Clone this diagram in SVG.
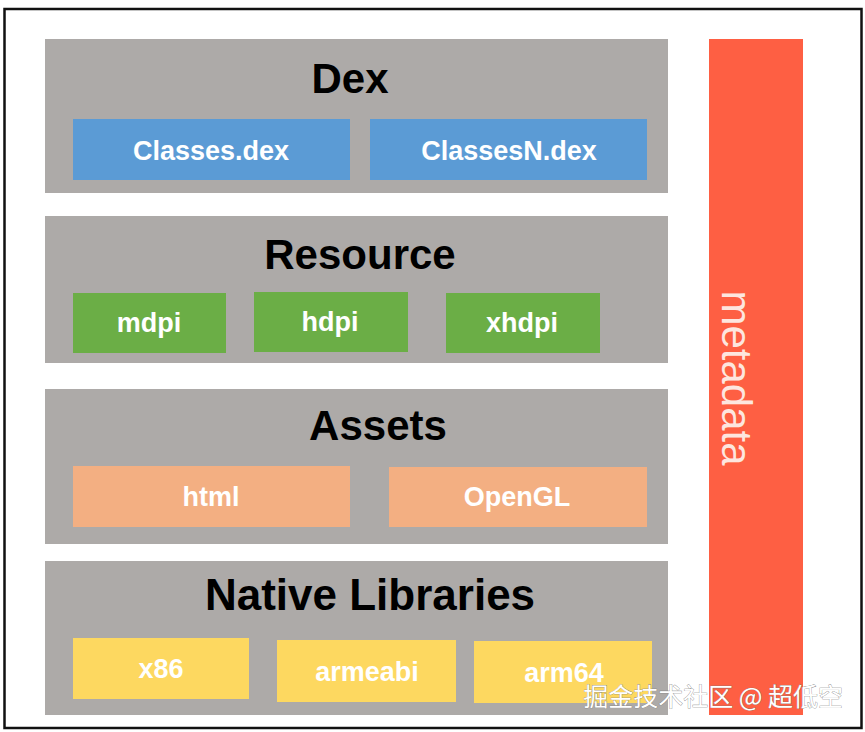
<svg xmlns="http://www.w3.org/2000/svg" width="865" height="732" viewBox="0 0 865 732">
<style>
.panel{fill:#adaaa8}
.title{font-family:"Liberation Sans",Arial,sans-serif;font-weight:bold;font-size:42px;fill:#000;text-anchor:middle}
.lbl{font-family:"Liberation Sans",Arial,sans-serif;font-weight:bold;font-size:27px;fill:#fff;text-anchor:middle}
.blue{fill:#5b9bd5}.green{fill:#6bae46}.orange{fill:#f3af82}.yellow{fill:#fdd860}
</style>
<rect x="0" y="0" width="865" height="732" fill="#fff"/>
<rect x="4.5" y="9" width="857" height="719" fill="#fff" stroke="#111" stroke-width="2.5"/>
<g id="dex">
<rect class="panel" x="45" y="39" width="623" height="154"/>
<text class="title" x="350" y="93">Dex</text>
<g id="classes-dex"><rect class="blue" x="73" y="119" width="277" height="61"/><text class="lbl" x="211" y="160">Classes.dex</text></g>
<g id="classesn-dex"><rect class="blue" x="370" y="119" width="277" height="61"/><text class="lbl" x="509" y="160">ClassesN.dex</text></g>
</g>
<g id="resource">
<rect class="panel" x="45" y="216" width="623" height="147"/>
<text class="title" x="360" y="269">Resource</text>
<g id="mdpi"><rect class="green" x="73" y="293" width="153" height="60"/><text class="lbl" x="149" y="332">mdpi</text></g>
<g id="hdpi"><rect class="green" x="254" y="292" width="154" height="60"/><text class="lbl" x="330" y="331">hdpi</text></g>
<g id="xhdpi"><rect class="green" x="446" y="293" width="154" height="60"/><text class="lbl" x="522" y="332">xhdpi</text></g>
</g>
<g id="assets">
<rect class="panel" x="45" y="389" width="623" height="155"/>
<text class="title" x="378" y="440">Assets</text>
<g id="html"><rect class="orange" x="73" y="466" width="277" height="61"/><text class="lbl" x="211" y="506">html</text></g>
<g id="opengl"><rect class="orange" x="389" y="467" width="258" height="60"/><text class="lbl" x="517" y="506">OpenGL</text></g>
</g>
<g id="native">
<rect class="panel" x="45" y="561" width="623" height="154"/>
<text class="title" x="370" y="610" style="font-size:44px">Native Libraries</text>
<g id="x86"><rect class="yellow" x="73" y="638" width="176" height="61"/><text class="lbl" x="161" y="678">x86</text></g>
<g id="armeabi"><rect class="yellow" x="277" y="640" width="179" height="62"/><text class="lbl" x="367" y="681">armeabi</text></g>
<g id="arm64"><rect class="yellow" x="474" y="641" width="178" height="62"/><text class="lbl" x="564" y="682">arm64</text></g>
</g>
<g id="metadata">
<rect x="709" y="39" width="94" height="676" fill="#fe5f43"/>
<text transform="translate(722,378) rotate(90)" text-anchor="middle" font-family="'Liberation Sans',Arial,sans-serif" font-size="42" fill="#fde6df">metadata</text>
</g>
<text x="843" y="706" text-anchor="end" font-family="'Noto Sans CJK SC',sans-serif" font-size="25" fill="#fff" stroke="#777" stroke-width="0.6" paint-order="stroke">掘金技术社区 @ 超低空</text>
</svg>
